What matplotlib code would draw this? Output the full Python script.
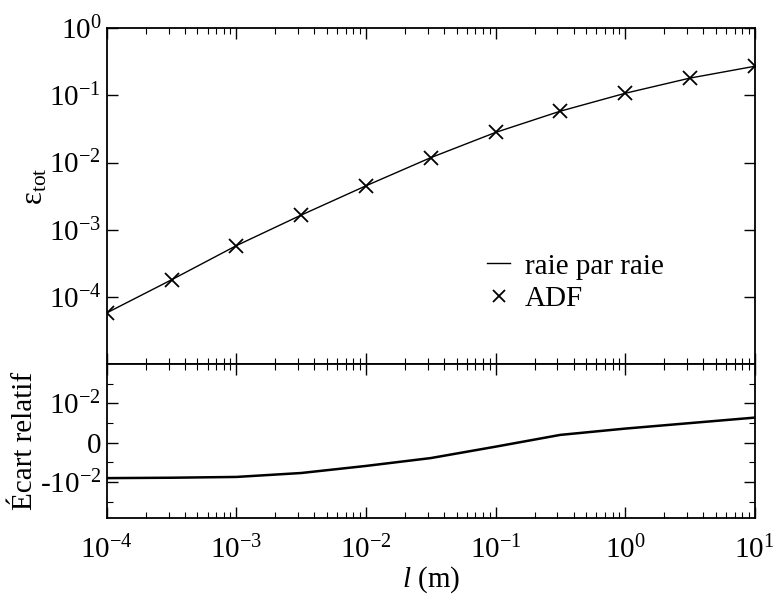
import numpy as np
import matplotlib
matplotlib.use("Agg")
import matplotlib.pyplot as plt
from matplotlib.ticker import LogLocator, FixedLocator, FixedFormatter, NullFormatter

plt.rcParams['font.family'] = ['Liberation Serif', 'DejaVu Serif']
plt.rcParams['mathtext.fontset'] = 'custom'
plt.rcParams['mathtext.rm'] = 'Liberation Serif'
plt.rcParams['mathtext.it'] = 'Liberation Serif:italic'

# longueur du trajet (m)
l = [1e-4, 3.16e-4, 1e-3, 3.16e-3, 1e-2, 3.16e-2, 1e-1, 3.16e-1, 1.0, 3.16, 10.0]
# emissivite totale
eps_rpr = [5.8e-5, 1.8e-4, 5.8e-4, 1.65e-3, 4.5e-3, 1.18e-2, 2.8e-2, 5.8e-2, 0.107, 0.18, 0.27]
eps_adf = [5.75e-5, 1.79e-4, 5.75e-4, 1.64e-3, 4.48e-3, 1.176e-2, 2.8e-2, 5.81e-2, 0.1074, 0.181, 0.272]
# ecart relatif
ecart = [-0.0090, -0.0089, -0.0087, -0.0077, -0.0059, -0.0039, -0.0010, 0.0020, 0.0036, 0.0050, 0.0064]

fig = plt.figure(figsize=(7.74, 5.97), dpi=100)
ax1 = fig.add_axes([0.138, 0.390, 0.837, 0.563])
ax2 = fig.add_axes([0.138, 0.132, 0.837, 0.258])

ax1.plot(l, eps_rpr, color='black', lw=1.0, label='raie par raie')
ax1.plot(l, eps_adf, ls='none', marker='x', ms=10, mew=1.3, color='black', label='ADF')
ax1.set_xscale('log')
ax1.set_yscale('log')
ax1.set_xlim(1e-4, 10)
ax1.set_ylim(1e-5, 1)
ax1.set_yticks([1e-4, 1e-3, 1e-2, 1e-1, 1])
ax1.set_yticklabels([r'$10^{-4}$', r'$10^{-3}$', r'$10^{-2}$', r'$10^{-1}$', r'$10^{0}$'])
ax1.yaxis.set_minor_locator(LogLocator(base=10, subs=np.arange(2, 10)))
ax1.yaxis.set_minor_formatter(NullFormatter())
ax1.xaxis.set_major_formatter(NullFormatter())
ax1.xaxis.set_minor_formatter(NullFormatter())
ax1.set_ylabel(r'$\mathrm{ε}_{\mathrm{tot}}$', fontsize=22)
ax1.yaxis.set_label_coords(-0.088, 0.53)
ax1.legend(loc='upper left', bbox_to_anchor=(0.587, 0.33), frameon=False, fontsize=21,
           handlelength=0.8, handletextpad=0.5, labelspacing=0.2, borderpad=0,
           borderaxespad=0, markerscale=0.8)

ax2.plot(l, ecart, color='black', lw=1.8)
ax2.set_xscale('log')
ax2.set_xlim(1e-4, 10)
ax2.set_ylim(-0.0192, 0.02)
ax2.yaxis.set_major_locator(FixedLocator([-0.01, 0, 0.01]))
ax2.yaxis.set_major_formatter(FixedFormatter([r'-$10^{-2}$', '0', r'$10^{-2}$']))
ax2.yaxis.set_minor_locator(FixedLocator([-0.015, -0.005, 0.005, 0.015]))
ax2.set_xticks([1e-4, 1e-3, 1e-2, 1e-1, 1, 10])
ax2.set_xticklabels([r'$10^{-4}$', r'$10^{-3}$', r'$10^{-2}$', r'$10^{-1}$', r'$10^{0}$', r'$10^{1}$'])
ax2.xaxis.set_minor_formatter(NullFormatter())
ax2.set_ylabel('Écart relatif', fontsize=21)
ax2.yaxis.set_label_coords(-0.106, 0.5)
ax2.set_xlabel(r'$\mathit{l}$ (m)', fontsize=21, labelpad=0)

for ax in (ax1, ax2):
    ax.tick_params(which='both', direction='in', top=True, right=True, labelsize=21)
    ax.tick_params(which='major', length=8, width=1, pad=4)
    ax.tick_params(which='minor', length=4, width=0.8)
    for s in ax.spines.values():
        s.set_linewidth(1.3)
ax2.tick_params(axis='x', which='major', pad=13)

fig.savefig('out.png', dpi=100)
